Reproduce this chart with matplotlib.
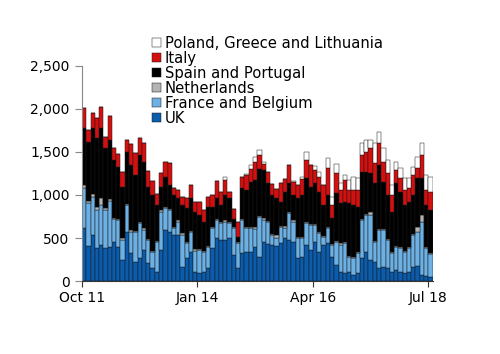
import numpy as np
import pandas as pd
import matplotlib
matplotlib.use('Agg')
import matplotlib.pyplot as plt

# monthly, Oct 2011 .. Jul 2018
months = pd.date_range('2011-10-01', '2018-07-01', freq='MS')

uk = [613, 411, 535, 380, 418, 380, 399, 457, 399, 244, 574, 330, 225, 263, 360, 205,
      147, 108, 360, 593, 574, 535, 535, 160, 263, 341, 108, 89, 108, 147, 380, 496,
      477, 477, 496, 300, 150, 322, 341, 341, 399, 283, 457, 426, 418, 411, 438, 496,
      477, 457, 263, 283, 418, 360, 457, 341, 418, 438, 283, 186, 108, 89, 108, 70,
      89, 263, 341, 244, 225, 147, 167, 147, 108, 128, 108, 89, 108, 167, 178, 70,
      60, 50]
france_belgium = [465, 492, 445, 446, 466, 446, 531, 264, 310, 236, 310, 245, 341, 407, 233, 271,
                  194, 342, 446, 252, 252, 77, 155, 380, 175, 225, 241, 271, 233, 252, 232, 213,
                  193, 213, 174, 320, 290, 387, 271, 271, 205, 465, 252, 256, 117, 93, 194, 124,
                  310, 233, 233, 213, 252, 291, 194, 213, 97, 174, 135, 271, 310, 349, 175, 193,
                  233, 446, 426, 523, 232, 446, 426, 330, 214, 271, 272, 252, 272, 368, 388, 612,
                  320, 260]
netherlands = [40, 27, 28, 38, 76, 19, 20, 15, 13, 20, 16, 15, 14, 20, 19, 14,
               14, 18, 14, 15, 14, 20, 15, 20, 12, 14, 23, 12, 11, 11, 13, 13,
               12, 15, 12, 12, 15, 13, 13, 13, 26, 12, 19, 13, 13, 26, 13, 20,
               13, 15, 14, 14, 15, 14, 14, 14, 13, 13, 12, 13, 20, 12, 12, 12,
               13, 13, 13, 38, 13, 12, 12, 13, 13, 11, 12, 11, 15, 13, 64, 85,
               20, 12]
spain_portugal = [658, 690, 768, 803, 823, 698, 690, 671, 607, 597, 604, 760, 652, 775, 776, 607,
                  645, 416, 277, 353, 276, 368, 256, 320, 395, 381, 434, 395, 338, 454, 239, 239,
                  202, 295, 279, 88, 60, 356, 433, 530, 544, 542, 563, 441, 452, 431, 277, 399,
                  336, 295, 451, 490, 509, 432, 471, 471, 356, 375, 299, 549, 465, 472, 608, 609,
                  529, 549, 484, 447, 666, 744, 550, 510, 471, 726, 647, 532, 527, 452, 564, 427,
                  484, 503]
italy = [240, 136, 174, 225, 237, 135, 283, 143, 144, 167, 136, 240, 253, 202, 213, 182,
         163, 124, 155, 175, 252, 78, 97, 100, 116, 155, 116, 155, 135, 116, 136, 202,
         155, 174, 78, 120, 175, 135, 175, 145, 206, 163, 71, 135, 124, 109, 214, 147,
         213, 147, 155, 190, 213, 252, 155, 174, 232, 310, 155, 233, 155, 252, 155, 174,
         194, 194, 240, 291, 232, 252, 233, 252, 194, 155, 155, 174, 156, 233, 116, 271,
         174, 214]
poland_greece_lith = [0, 0, 0, 0, 0, 0, 0, 0, 0, 0, 0, 0, 0, 0, 0, 0,
                      0, 0, 0, 0, 0, 0, 0, 0, 0, 0, 0, 0, 0, 0, 0, 0,
                      0, 39, 0, 0, 0, 0, 7, 49, 66, 58, 26, 0, 0, 0, 0, 0,
                      0, 13, 0, 23, 89, 0, 50, 58, 0, 124, 96, 105, 78, 59, 116, 155,
                      136, 136, 136, 97, 233, 128, 155, 155, 116, 97, 116, 136, 116, 96, 136, 136,
                      175, 174]

series = [('UK', uk, '#0b5cad'),
          ('France and Belgium', france_belgium, '#6cb0e4'),
          ('Netherlands', netherlands, '#b3b3b3'),
          ('Spain and Portugal', spain_portugal, '#000000'),
          ('Italy', italy, '#d40f0f'),
          ('Poland, Greece and Lithuania', poland_greece_lith, '#ffffff')]

tick_labels = ['Oct 11', 'Jan 14', 'Apr 16', 'Jul 18']
tick_months = ['2011-10-01', '2014-01-01', '2016-04-01', '2018-07-01']

plt.rcParams['font.family'] = ['DejaVu Sans']

fig = plt.figure(figsize=(5, 3.54), dpi=100)
ax = fig.add_axes([0.164, 0.206, 0.702, 0.608])

x = np.arange(len(months))
bottom = np.zeros(len(months))
for name, vals, col in series:
    vals = np.array(vals, dtype=float)
    ax.bar(x, vals, width=1.0, bottom=bottom, color=col, edgecolor='#1a1a1a',
           linewidth=0.35, label=name)
    bottom += vals

ax.set_ylim(0, 2500)
ax.set_yticks(range(0, 2501, 500))
ax.set_yticklabels(['{:,}'.format(v) for v in range(0, 2501, 500)], fontsize=10)
ax.set_xlim(-0.5, 81.6)
tpos = [list(months).index(pd.Timestamp(t)) - 0.5 for t in tick_months]
ax.set_xticks(tpos)
ax.set_xticklabels(tick_labels, fontsize=10)

for s in ['top', 'right']:
    ax.spines[s].set_visible(False)
ax.spines['left'].set_color('#888888')
ax.spines['bottom'].set_color('#333333')
ax.tick_params(axis='y', length=5, color='#888888', pad=4)
ax.tick_params(axis='x', length=4, color='#333333', pad=3)

handles, labels = ax.get_legend_handles_labels()
fig.legend(handles[::-1], labels[::-1], loc='upper left', bbox_to_anchor=(0.29, 0.92),
           frameon=False, fontsize=10.6, handlelength=0.6, handleheight=0.6,
           handletextpad=0.25, labelspacing=0.0, borderpad=0)

fig.savefig('out.png', dpi=100)
